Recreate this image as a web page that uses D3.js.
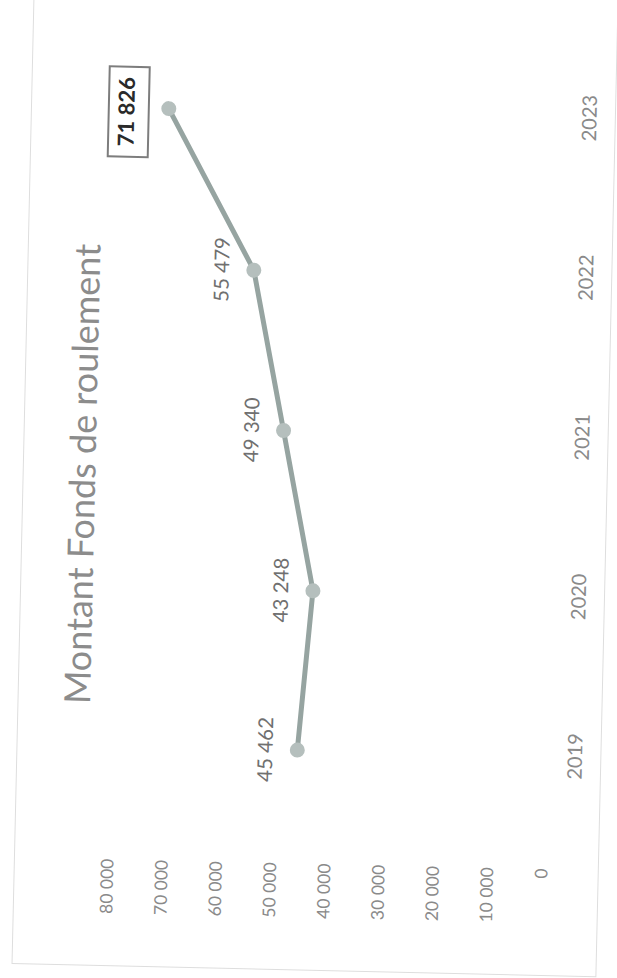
<!DOCTYPE html>
<html>
<head>
<meta charset="utf-8">
<script src="https://cdn.jsdelivr.net/npm/d3@7"></script>
<style>
  body { margin: 0; background: #fff; }
  svg { display: block; }
</style>
</head>
<body>
<div id="chart"></div>
<script>
const years = ["2019", "2020", "2021", "2022", "2023"];
const values = [45462, 43248, 49340, 55479, 71826];
const yTicks = [0, 10000, 20000, 30000, 40000, 50000, 60000, 70000, 80000];
const title = "Montant Fonds de roulement";

var pageW = 617, pageH = 978;

// the scan is the chart turned a quarter turn, slightly skewed
var svg = d3.select("#chart").append("svg")
  .attr("width", pageW)
  .attr("height", pageH);

var g = svg.append("g")
  .attr("transform", "rotate(1.3,300,880) translate(0," + pageH + ") rotate(-90)");

var fr = d3.formatLocale({ decimal: ",", thousands: " ", grouping: [3], currency: ["", " €"] });
var fmt = fr.format(",");

// chart coords (before the turn): u = horizontal, v = vertical
var x = d3.scaleBand()
  .domain(years)
  .range([148, 946]);

var y = d3.scaleLinear()
  .domain([0, 80000])
  .range([541, 107]);

var cx = function (d, i) { return x(years[i]) + x.bandwidth() / 2; };

// faint frame of the chart area
g.append("rect")
  .attr("x", 8).attr("y", 14)
  .attr("width", 990).attr("height", 584)
  .attr("fill", "none")
  .attr("stroke", "#dedede")
  .attr("stroke-width", 1);

g.append("text")
  .attr("x", 499)
  .attr("y", 77)
  .attr("text-anchor", "middle")
  .attr("dominant-baseline", "middle")
  .style("font-family", "Lato, 'Open Sans', sans-serif")
  .style("font-size", "36px")
  .style("fill", "#8c8c8c")
  .text(title);

var yAxis = d3.axisLeft(y)
  .tickValues(yTicks)
  .tickSize(0)
  .tickPadding(33)
  .tickFormat(fmt);

g.append("g")
  .attr("class", "y axis")
  .attr("transform", "translate(148,0)")
  .call(yAxis)
  .call(function (s) { s.select(".domain").remove(); })
  .selectAll("text")
  .style("font-family", "Lato, 'Open Sans', sans-serif")
  .style("font-size", "17.5px")
  .style("fill", "#8a8a8a");

var xAxis = d3.axisBottom(x)
  .tickSize(0)
  .tickPadding(24);

g.append("g")
  .attr("class", "x axis")
  .attr("transform", "translate(0," + y(0) + ")")
  .call(xAxis)
  .call(function (s) { s.select(".domain").remove(); })
  .selectAll("text")
  .style("font-family", "Lato, 'Open Sans', sans-serif")
  .style("font-size", "20px")
  .style("fill", "#8a8a8a");

var line = d3.line()
  .x(function (d, i) { return cx(d, i); })
  .y(function (d) { return y(d); });

g.append("path")
  .datum(values)
  .attr("d", line)
  .attr("fill", "none")
  .attr("stroke", "#96a4a1")
  .attr("stroke-width", 5)
  .attr("stroke-linejoin", "round");

g.selectAll("circle.pt")
  .data(values)
  .enter().append("circle")
  .attr("class", "pt")
  .attr("cx", cx)
  .attr("cy", function (d) { return y(d); })
  .attr("r", 7.5)
  .attr("fill", "#b5bfbd");

var last = values.length - 1;

g.selectAll("text.label")
  .data(values)
  .enter().append("text")
  .filter(function (d, i) { return i < last; })
  .attr("class", "label")
  .attr("x", cx)
  .attr("y", function (d) { return y(d) - 30; })
  .attr("text-anchor", "middle")
  .attr("dominant-baseline", "middle")
  .style("font-family", "Lato, 'Open Sans', sans-serif")
  .style("font-size", "20.5px")
  .style("fill", "#707070")
  .text(function (d) { return fmt(d); });

// highlighted last value in a box
var lx = cx(values[last], last) - 4, ly = y(values[last]) - 40;
g.append("rect")
  .attr("x", lx - 45).attr("y", ly - 20)
  .attr("width", 90).attr("height", 40)
  .attr("fill", "#fff")
  .attr("stroke", "#7d7d7d")
  .attr("stroke-width", 2);

g.append("text")
  .attr("x", lx)
  .attr("y", ly)
  .attr("text-anchor", "middle")
  .attr("dominant-baseline", "middle")
  .style("font-family", "Lato, 'Open Sans', sans-serif")
  .style("font-size", "22px")
  .style("font-weight", "bold")
  .style("fill", "#2a2a2a")
  .text(fmt(values[last]));
</script>
</body>
</html>
